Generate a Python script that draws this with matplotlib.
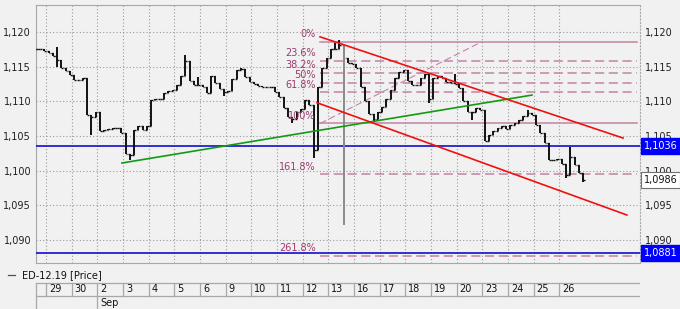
import matplotlib
matplotlib.use("Agg")
import matplotlib.pyplot as plt
import matplotlib.transforms as mtransforms
from matplotlib.lines import Line2D

# ---------------- data ----------------
# 4-hour closes (6 bars per day), first bar at day-position -0.4
closes = [
    1.1175, 1.1176, 1.1172, 1.1170, 1.1166, 1.1160, 1.1148, 1.1144, 1.1138, 1.1131,
    1.1131, 1.1134, 1.1080, 1.1078, 1.1084, 1.1057, 1.1058, 1.1060, 1.1062, 1.1062,
    1.1055, 1.1024, 1.1022, 1.1058, 1.1064, 1.1059, 1.1065, 1.1102, 1.1104, 1.1104,
    1.1112, 1.1115, 1.1117, 1.1123, 1.1136, 1.1158, 1.1130, 1.1124, 1.1124, 1.1120,
    1.1112, 1.1136, 1.1126, 1.1118, 1.1113, 1.1115, 1.1132, 1.1145, 1.1146, 1.1135,
    1.1128, 1.1125, 1.1122, 1.1121, 1.1121, 1.1121, 1.1114, 1.1106, 1.1091, 1.1078,
    1.1075, 1.1085, 1.1089, 1.1102, 1.1095, 1.1030, 1.1120, 1.1148, 1.1162, 1.1175,
    1.1176, 1.1181, 1.1162, 1.1155, 1.1154, 1.1148, 1.1120, 1.1100, 1.1082, 1.1075,
    1.1084, 1.1092, 1.1103, 1.1117, 1.1134, 1.1142, 1.1145, 1.1130, 1.1123, 1.1123,
    1.1133, 1.1139, 1.1104, 1.1134, 1.1136, 1.1133, 1.1128, 1.1126, 1.1125, 1.1119,
    1.1101, 1.1085, 1.1084, 1.1090, 1.1088, 1.1043, 1.1052, 1.1057, 1.1062, 1.1064,
    1.1060, 1.1066, 1.1068, 1.1073, 1.1079, 1.1083, 1.1080, 1.1066, 1.1055, 1.1040,
    1.1016, 1.1016, 1.1017, 1.1009, 1.0994, 1.1020, 1.1008, 1.0996, 1.0986,
]
bars_per_day = 6
start_pos = -0.4

spike_hi_idx = [5, 35, 38, 48, 70, 71, 98, 115, 125]
spike_hi_val = [1.1178, 1.1167, 1.1135, 1.1148, 1.1184, 1.1188, 1.1140, 1.1088, 1.1034]
spike_lo_idx = [5, 13, 22, 44, 60, 65, 72, 79, 92, 102, 124, 128]
spike_lo_val = [1.1150, 1.1052, 1.1015, 1.1108, 1.1068, 1.1018, 1.0922, 1.1072, 1.1098,
                1.1073, 1.0990, 1.0984]
grey_idx = [72]

day_labels = ["29", "30", "2", "3", "4", "5", "6", "9", "10", "11", "12", "13",
              "16", "17", "18", "19", "20", "23", "24", "25", "26"]
month_labels = ["Sep"]
month_start = [2]

y_ticks = [1.090, 1.095, 1.100, 1.105, 1.110, 1.115, 1.120]
y_tick_labels = ["1,090", "1,095", "1,100", "1,105", "1,110", "1,115", "1,120"]

blue_levels = [1.1036, 1.0881]
blue_labels = ["1,1036", "1,0881"]
last_price = 1.0986
last_label = "1,0986"

green_pos = [2.96, 18.94]
green_val = [1.1011, 1.1109]
red_upper_pos = [10.68, 22.49]
red_upper_val = [1.1193, 1.1047]
red_lower_pos = [10.56, 22.64]
red_lower_val = [1.1098, 1.0936]

fib_high = 1.1186
fib_low = 1.1068
fib_levels = [0.0, 0.236, 0.382, 0.5, 0.618, 1.0, 1.618, 2.618]
fib_labels = ["0%", "23.6%", "38.2%", "50%", "61.8%", "100%", "161.8%", "261.8%"]
fib_pos = [10.68, 23.03]
fib_label_pos = 10.52
fib_diag_pos = [10.68, 16.99]

legend_text = "ED-12.19 [Price]"

# ---------------- figure ----------------
W, H = 680, 309
BG = "#f1f1f1"
GRID = "#9a9a9a"
FIB_LINE = "#c384a6"
FIB_TEXT = "#9b3a6e"
BLUE = "#1010d0"
FS = 7

plt.rcParams["font.family"] = ["DejaVu Sans"]
fig = plt.figure(figsize=(W / 100, H / 100), dpi=100, facecolor=BG)

def fx(x):
    return x / W

def fy(y):
    return 1 - y / H

ax = fig.add_axes([fx(36), fy(263), (640 - 36) / W, (263 - 5) / H], facecolor=BG)
x_lo, x_hi = -0.39, 23.15
ax.set_xlim(x_lo, x_hi)
ax.set_ylim(1.08668, 1.12389)

# grid
for i in range(len(day_labels)):
    ax.axvline(i, color=GRID, lw=0.8, ls=(0, (1, 2)), zorder=1)
for v in y_ticks:
    ax.axhline(v, color=GRID, lw=0.8, ls=(0, (1, 2)), zorder=1)

ax.set_yticks(y_ticks)
ax.set_yticklabels(y_tick_labels)
ax.set_xticks([])
ax.tick_params(axis="y", length=0, labelleft=True, labelright=True, labelsize=FS,
               colors="#202020", pad=3.5)
for s in ["left", "top", "bottom"]:
    ax.spines[s].set_color("#a8a8a8")
    ax.spines[s].set_linewidth(0.8)
ax.spines["right"].set_color("#a8a8a8")
ax.spines["right"].set_linestyle((0, (1, 2)))
ax.spines["right"].set_linewidth(0.8)

# horizontal blue levels
for v in blue_levels:
    ax.axhline(v, color=BLUE, lw=1.2, zorder=3)

# fib retracement
rng = fib_high - fib_low
lab_tr = mtransforms.offset_copy(ax.transData, fig=fig, x=0, y=2.5, units="dots")
for lvl, lab in zip(fib_levels, fib_labels):
    v = fib_high - lvl * rng
    if lvl in (0.0, 1.0):
        ax.plot(fib_pos, [v, v], color=FIB_LINE, lw=1.1, zorder=2)
    else:
        ax.plot(fib_pos, [v, v], color=FIB_LINE, lw=1.1, ls=(0, (6, 3)), zorder=2)
    ax.text(fib_label_pos, v, lab, transform=lab_tr, ha="right", va="bottom",
            fontsize=FS, color=FIB_TEXT, zorder=6)
ax.plot(fib_diag_pos, [fib_low, fib_high], color=FIB_LINE, lw=0.8, ls=(0, (6, 3)), zorder=2)

# price bars
tick = 0.07
for k, c in enumerate(closes):
    t = start_pos + k / bars_per_day
    o = closes[k - 1] if k > 0 else c
    hi = max(o, c)
    lo = min(o, c)
    if k in spike_hi_idx:
        hi = max(hi, spike_hi_val[spike_hi_idx.index(k)])
    if k in spike_lo_idx:
        lo = min(lo, spike_lo_val[spike_lo_idx.index(k)])
    col = "#8a8a8a" if k in grey_idx else "#111111"
    ax.vlines(t, lo, hi, color=col, lw=1.4, zorder=4)
    ax.hlines(o, t - tick, t, color=col, lw=1.0, zorder=4)
    ax.hlines(c, t, t + tick, color=col, lw=1.0, zorder=4)

# trend lines
ax.plot(green_pos, green_val, color="#139a13", lw=1.2, zorder=5)
ax.plot(red_upper_pos, red_upper_val, color="#f01010", lw=1.2, zorder=5)
ax.plot(red_lower_pos, red_lower_val, color="#f01010", lw=1.2, zorder=5)

# right-side value boxes
ytr = ax.get_yaxis_transform()
for v, lab in zip(blue_levels, blue_labels):
    ax.text(1.006, v, lab, transform=ytr, ha="left", va="center", fontsize=FS,
            color="white", clip_on=False, zorder=7,
            bbox=dict(boxstyle="square,pad=0.3", fc="#0000ff", ec="#0000ff"))
ax.text(1.006, last_price, last_label, transform=ytr, ha="left", va="center", fontsize=FS,
        color="#111111", clip_on=False, zorder=7,
        bbox=dict(boxstyle="square,pad=0.3", fc="white", ec="#707070", lw=0.8))

# legend
fig.add_artist(Line2D([fx(8), fx(15)], [fy(275), fy(275)], color="#505050", lw=0.9))
fig.text(fx(22), fy(275), legend_text, ha="left", va="center", fontsize=FS, color="#111111")

# date axis
ax2 = fig.add_axes([fx(36), 0, (640 - 36) / W, (309 - 283) / H])
ax2.set_xlim(x_lo, x_hi)
ax2.set_ylim(0, 2)
ax2.axis("off")
ax2.patch.set_alpha(0)
CELL = "#a8a8a8"
ax2.plot([x_lo, 23.13], [2, 2], color=CELL, lw=0.9, clip_on=False)
ax2.plot([x_lo, 23.13], [1, 1], color=CELL, lw=0.9, clip_on=False)
ax2.plot([x_lo, x_lo], [0, 2], color=CELL, lw=0.9, clip_on=False)
dtr = mtransforms.offset_copy(ax2.transData, fig=fig, x=3, y=0, units="dots")
for i, lab in enumerate(day_labels):
    ax2.plot([i, i], [1, 2], color=CELL, lw=0.9, clip_on=False)
    ax2.text(i, 1.5, lab, transform=dtr, ha="left", va="center", fontsize=FS, color="#111111")
for ms, ml in zip(month_start, month_labels):
    ax2.plot([ms, ms], [0, 1], color=CELL, lw=0.9, clip_on=False)
    ax2.text(ms, 0.5, ml, transform=dtr, ha="left", va="center", fontsize=FS, color="#111111")

fig.savefig("out.png", dpi=100, facecolor=BG)
